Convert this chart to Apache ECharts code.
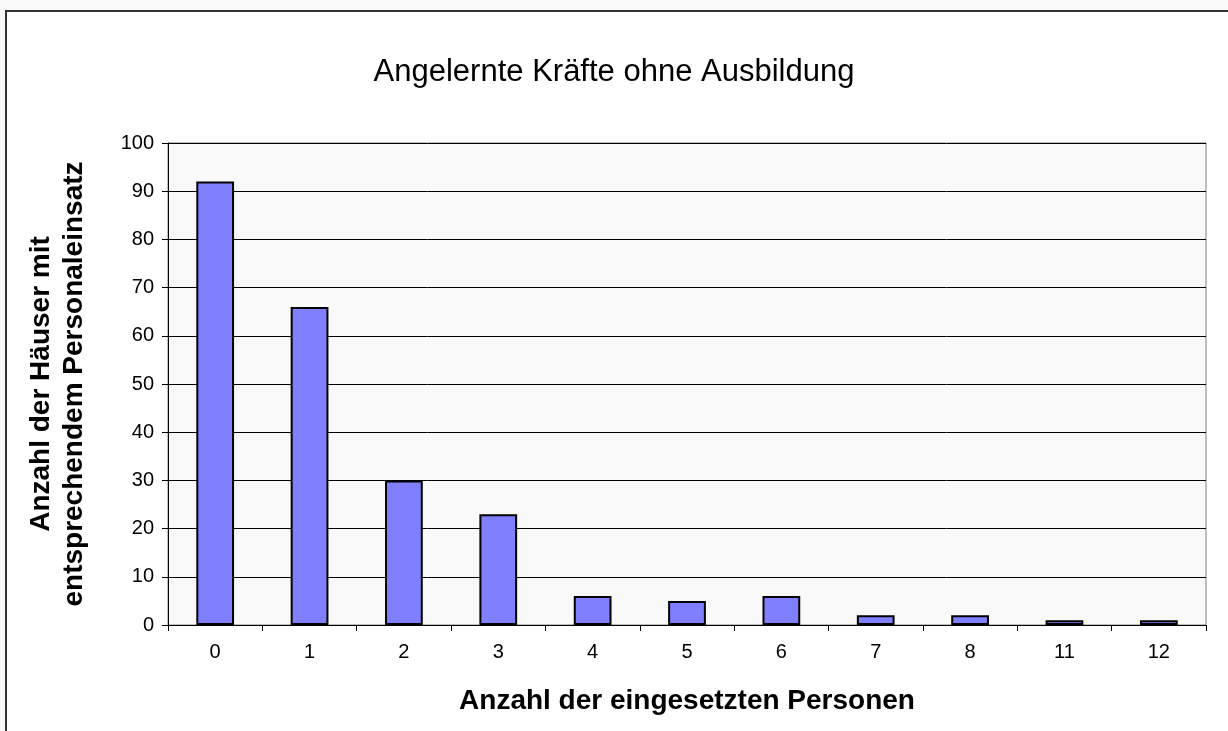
<!DOCTYPE html>
<html>
<head>
<meta charset="utf-8">
<script src="https://cdn.jsdelivr.net/npm/echarts@6/dist/echarts.min.js"></script>
<style>
html, body { margin: 0; padding: 0; background: #f9f9f9; }
#chart { width: 1228px; height: 731px; }
</style>
</head>
<body>
<div id="chart"></div>
<script>
// Kategorien und Werte
const categories = ['0', '1', '2', '3', '4', '5', '6', '7', '8', '11', '12'];
const counts = [92, 66, 30, 23, 6, 5, 6, 2, 2, 1, 1];

const font = 'Arial, "Liberation Sans", sans-serif';

const myChart = echarts.init(document.getElementById('chart'));
const option = {
	backgroundColor: '#f9f9f9',
	animation: false,
	graphic: [{
		type: 'rect',
		z: -10,
		shape: { x: 6, y: 11, width: 1240, height: 740 },
		style: { fill: '#ffffff', stroke: '#333333', lineWidth: 2 }
	}],
	title: {
		text: 'Angelernte Kräfte ohne Ausbildung',
		left: 'center',
		top: 52,
		textStyle: { fontFamily: font, fontSize: 31, fontWeight: 'normal', color: '#000' }
	},
	grid: {
		left: 168,
		right: 22,
		top: 143,
		bottom: 106,
		show: true,
		backgroundColor: '#f9f9f9',
		borderColor: '#808080',
		borderWidth: 1
	},
	xAxis: {
		type: 'category',
		data: categories,
		name: 'Anzahl der eingesetzten Personen',
		nameLocation: 'middle',
		nameGap: 62,
		nameTextStyle: { fontFamily: font, fontSize: 28, fontWeight: 'bold', color: '#000' },
		axisLine: { lineStyle: { color: '#000', width: 1 } },
		axisTick: { show: true, length: 6, lineStyle: { color: '#000' } },
		axisLabel: { fontFamily: font, fontSize: 20, color: '#000', margin: 17 }
	},
	yAxis: {
		type: 'value',
		min: 0,
		max: 100,
		interval: 10,
		name: 'Anzahl der Häuser mit\nentsprechendem Personaleinsatz',
		nameLocation: 'middle',
		nameRotate: 90,
		nameGap: 77,
		nameTextStyle: { fontFamily: font, fontSize: 28, fontWeight: 'bold', color: '#000', lineHeight: 33 },
		axisLine: { show: true, lineStyle: { color: '#000', width: 1 } },
		axisTick: { show: true, length: 6, lineStyle: { color: '#000' } },
		axisLabel: { fontFamily: font, fontSize: 20, color: '#000', margin: 14 },
		splitLine: { lineStyle: { color: '#000', width: 1 } }
	},
	series: [{
		type: 'bar',
		data: counts,
		barWidth: '40%',
		itemStyle: { color: '#8080ff', borderColor: '#000', borderWidth: 2 }
	}]
};
myChart.setOption(option);
</script>
</body>
</html>
